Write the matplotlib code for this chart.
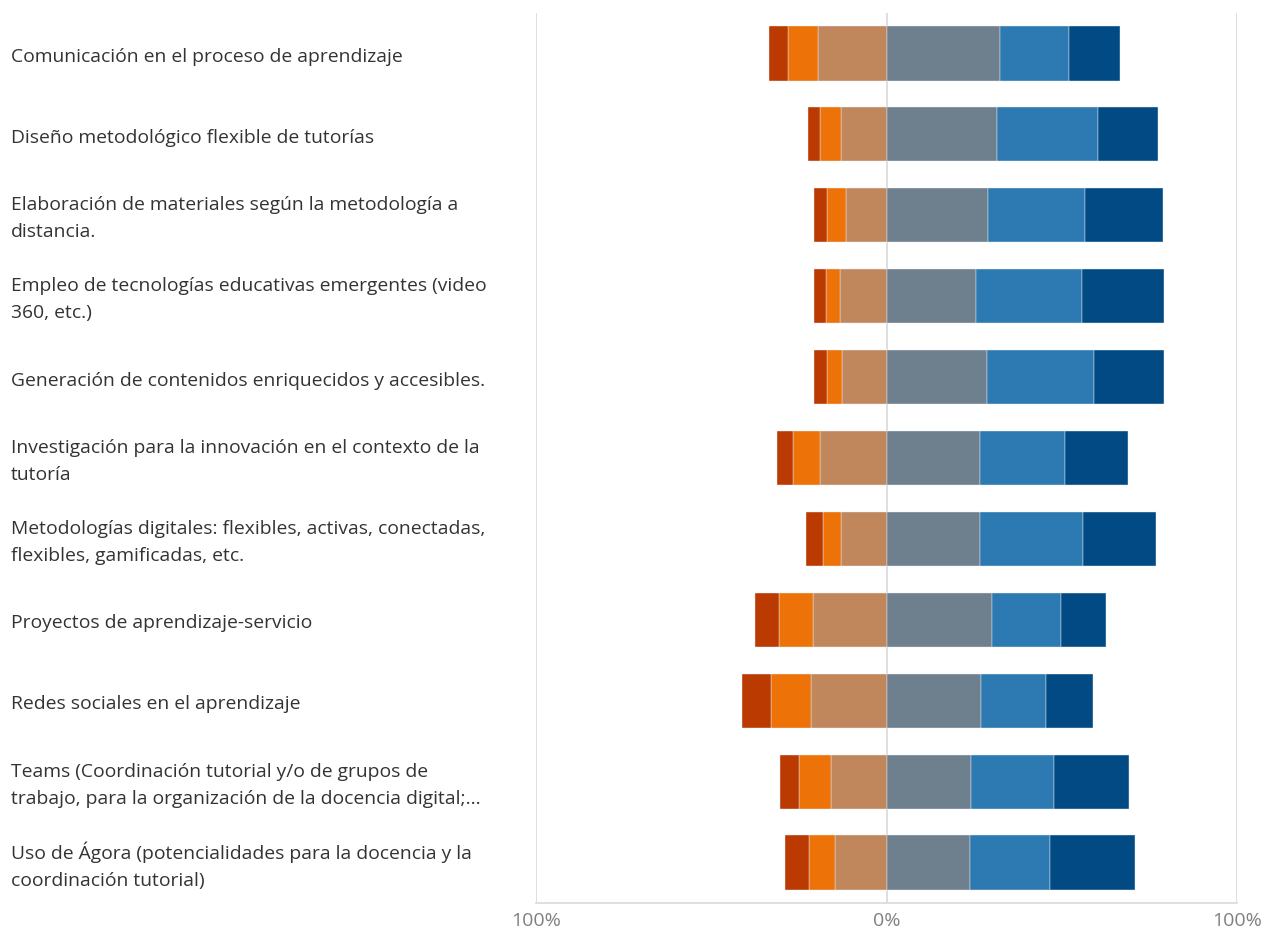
import matplotlib.pyplot as plt
import matplotlib.transforms as transforms
import numpy as np

categorias = [
    "Comunicación en el proceso de aprendizaje",
    "Diseño metodológico flexible de tutorías",
    "Elaboración de materiales según la metodología a\ndistancia.",
    "Empleo de tecnologías educativas emergentes (video\n360, etc.)",
    "Generación de contenidos enriquecidos y accesibles.",
    "Investigación para la innovación en el contexto de la\ntutoría",
    "Metodologías digitales: flexibles, activas, conectadas,\nflexibles, gamificadas, etc.",
    "Proyectos de aprendizaje-servicio",
    "Redes sociales en el aprendizaje",
    "Teams (Coordinación tutorial y/o de grupos de\ntrabajo, para la organización de la docencia digital;...",
    "Uso de Ágora (potencialidades para la docencia y la\ncoordinación tutorial)",
]

# lado negativo (de fuera hacia el centro)
nivel_1 = [5.2, 3.5, 3.6, 3.4, 3.5, 4.5, 4.9, 6.6, 8.2, 5.6, 6.9]
nivel_2 = [8.6, 5.9, 5.5, 4.1, 4.5, 7.5, 4.9, 9.7, 11.4, 9.1, 7.4]
nivel_3 = [19.6, 13.1, 11.6, 13.3, 12.6, 19.1, 13.1, 21.1, 21.5, 15.8, 14.8]
# lado positivo (del centro hacia fuera)
nivel_4 = [32.3, 31.4, 29.0, 25.4, 28.6, 26.6, 26.6, 30.0, 27.1, 24.2, 23.7]
nivel_5 = [19.8, 28.9, 27.5, 30.5, 30.7, 24.3, 29.4, 19.8, 18.3, 23.7, 22.9]
nivel_6 = [14.4, 17.1, 22.5, 23.3, 20.0, 18.0, 21.0, 12.8, 13.4, 21.4, 24.3]

ticks = [-100, 0, 100]
tick_labels = ["100%", "0%", "100%"]

colores = ["#BA3A02", "#ED7208", "#C1875C", "#6E7F8D", "#2C7AB1", "#024A84"]

plt.rcParams['font.family'] = ['Open Sans', 'DejaVu Sans']

fig = plt.figure(figsize=(12.65, 9.29), dpi=100)
ax = fig.add_axes([536/1265, 1 - 904/929, 701/1265, 890/929])

y = np.arange(len(categorias))
n1 = np.array(nivel_1)
n2 = np.array(nivel_2)
n3 = np.array(nivel_3)
p1 = np.array(nivel_4)
p2 = np.array(nivel_5)
p3 = np.array(nivel_6)

h = 0.67
kw = dict(height=h, edgecolor="#e8eef5", linewidth=0.3, zorder=3)
ax.barh(y, -n3, left=0, color=colores[2], **kw)
ax.barh(y, -n2, left=-n3, color=colores[1], **kw)
ax.barh(y, -n1, left=-n3 - n2, color=colores[0], **kw)
ax.barh(y, p1, left=0, color=colores[3], **kw)
ax.barh(y, p2, left=p1, color=colores[4], **kw)
ax.barh(y, p3, left=p1 + p2, color=colores[5], **kw)

ax.set_xlim(-100, 100)
ax.set_ylim(len(categorias) - 0.5, -0.5)
ax.set_xticks(ticks)
ax.set_xticklabels(tick_labels, fontsize=14, color="#808080")
ax.tick_params(axis="x", length=0, pad=6)
ax.set_yticks([])
for x in ticks:
    ax.axvline(x, color="#d9d9d9", linewidth=1.2, zorder=1)
for s in ["top", "left", "right"]:
    ax.spines[s].set_visible(False)
ax.spines["bottom"].set_color("#d9d9d9")
ax.spines["bottom"].set_linewidth(1.2)

# etiquetas alineadas a la izquierda, un poco por debajo del centro de la barra
trans = transforms.blended_transform_factory(fig.transFigure, ax.transData)
trans = trans + transforms.ScaledTranslation(0, -2.5/100, fig.dpi_scale_trans)
for i, cat in enumerate(categorias):
    ax.text(11/1265, i, cat, transform=trans, ha="left", va="center",
            fontsize=13.9, color="#333333", linespacing=1.65)

fig.savefig("out.png", dpi=100)
